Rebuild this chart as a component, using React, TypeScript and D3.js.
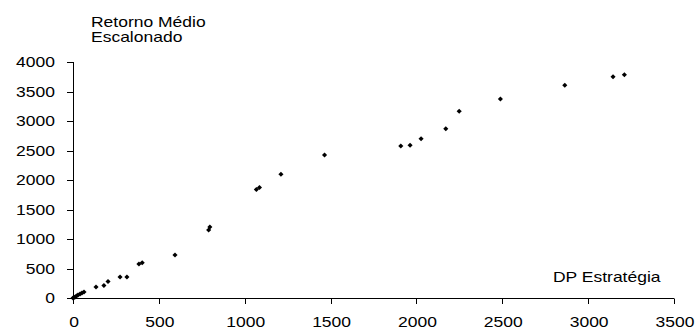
import React from "react";
import * as d3 from "d3";

const dpEstrategia = [0, 6, 12, 20, 29, 41, 52, 64, 134, 180, 204, 274, 314, 384, 403, 594, 790, 797, 1068, 1086, 1211, 1465, 1909, 1963, 2027, 2171, 2249, 2489, 2864, 3145, 3211];
const retornoMedio = [0, 8, 17, 34, 51, 68, 85, 102, 186, 212, 280, 356, 356, 576, 598, 729, 1153, 1203, 1839, 1873, 2097, 2424, 2576, 2588, 2700, 2869, 3164, 3373, 3605, 3751, 3785];
const xTicks = [0, 500, 1000, 1500, 2000, 2500, 3000, 3500];
const yTicks = [0, 500, 1000, 1500, 2000, 2500, 3000, 3500, 4000];
const yTitle = ["Retorno Médio", "Escalonado"];
const xTitle = "DP Estratégia";

const W = 695;
const H = 329;
const SX = 1.25;
const FONT = "'Liberation Sans', Arial, sans-serif";

export default function App() {
  const x = d3.scaleLinear().domain([0, 3500]).range([73, 674]);
  const y = d3.scaleLinear().domain([0, 4000]).range([298, 62]);
  const sym = d3.symbol().type(d3.symbolSquare).size(13)() as string;
  const points = dpEstrategia.map((v, i) => [v, retornoMedio[i]]);
  const T = (tx: number, ty: number) => `translate(${tx},${ty}) scale(${SX},1)`;
  return (
    <svg width={W} height={H} style={{ position: "absolute", left: 0, top: 0, background: "#fff" }} fontFamily={FONT} fontSize={14}>
      <rect x={0} y={0} width={W} height={H} fill="#fff" />
      <line x1={73.5} x2={73.5} y1={y(4000)} y2={y(0)} stroke="#000" strokeWidth={1} />
      <line x1={x(0)} x2={x(3500)} y1={298.5} y2={298.5} stroke="#000" strokeWidth={1} />
      {yTicks.map((t) => (
        <g key={"y" + t}>
          <line x1={67} x2={73.5} y1={Math.round(y(t)) + 0.5} y2={Math.round(y(t)) + 0.5} stroke="#000" />
          <text transform={T(55, y(t) + 5)} textAnchor="end" fill="#000">{t}</text>
        </g>
      ))}
      {xTicks.map((t) => (
        <g key={"x" + t}>
          <line x1={Math.round(x(t)) + 0.5} x2={Math.round(x(t)) + 0.5} y1={298.5} y2={304} stroke="#000" />
          <text transform={T(x(t) + 1, 327)} textAnchor="middle" fill="#000">{t}</text>
        </g>
      ))}
      {yTitle.map((s, i) => (
        <text key={s} transform={T(91, 27 + i * 15)} fill="#000">{s}</text>
      ))}
      <text transform={T(553, 282)} fill="#000">{xTitle}</text>
      {points.map((p, i) => (
        <path key={i} d={sym} transform={`translate(${x(p[0])},${y(p[1])}) rotate(45)`} fill="#000" />
      ))}
    </svg>
  );
}
